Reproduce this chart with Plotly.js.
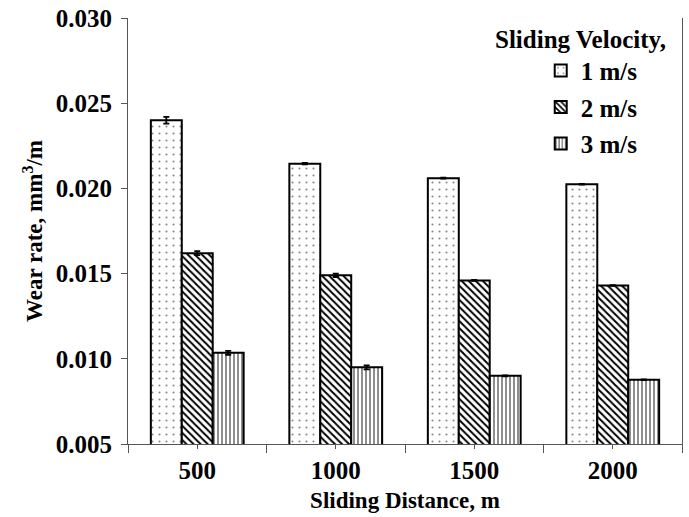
<!DOCTYPE html>
<html>
<head>
<meta charset="utf-8">
<script src="https://cdn.plot.ly/plotly-3.0.1.min.js"></script>
<style>html,body{margin:0;padding:0;background:#fff;}#chart{width:689px;height:517px;}</style>
</head>
<body>
<div id="chart"></div>
<script>
const categories = ['500', '1000', '1500', '2000'];
const seriesNames = ['1 m/s', '2 m/s', '3 m/s'];
const v1 = [0.0240, 0.02145, 0.0206, 0.02025];
const v2 = [0.0162, 0.0149, 0.0146, 0.0143];
const v3 = [0.01035, 0.0095, 0.0090, 0.00877];
const e1 = [0.0002, 0.00004, 0.00003, 0.00002];
const e2 = [0.00012, 0.0001, 0.00003, 0.00002];
const e3 = [0.00012, 0.00012, 0.00003, 0.00002];
const yTicks = [0.005, 0.010, 0.015, 0.020, 0.025, 0.030];

const xIdx = categories.map((c, i) => i);
const FONT = 'Liberation Serif, Times New Roman, serif';
const FS = 25;
const TFS = 23;
const patterns = [
  {shape: '.', size: 7, solidity: 0.07, fgcolor: '#888', bgcolor: '#fff'},
  {shape: '\\', size: 5, solidity: 0.4, fgcolor: '#000', bgcolor: '#fff'},
  {shape: '|', size: 4, solidity: 0.3, fgcolor: '#444', bgcolor: '#fff'}
];
const vals = [v1, v2, v3];
const errs = [e1, e2, e3];
const traces = vals.map((v, k) => ({
  type: 'bar',
  name: seriesNames[k],
  x: xIdx,
  y: v,
  legendgroup: 'g' + k,
  marker: {color: '#fff', pattern: patterns[k], line: {color: '#000', width: 2}},
  error_y: {type: 'data', array: errs[k], visible: true, color: '#000', thickness: 1.8, width: 3}
}));

const layout = {
  width: 689, height: 517,
  margin: {l: 128, r: 7, t: 18, b: 73},
  paper_bgcolor: '#fff', plot_bgcolor: '#fff',
  barmode: 'group', bargap: 0.33, bargroupgap: 0,
  font: {family: FONT, size: FS, color: '#000', weight: 'bold'},
  showlegend: true,
  legend: {
    x: 0.745, y: 0.93, xanchor: 'left', yanchor: 'top',
    bgcolor: 'rgba(0,0,0,0)', traceorder: 'grouped', tracegroupgap: 1,
    font: {family: FONT, size: FS, color: '#000', weight: 'bold'},
    itemwidth: 30
  },
  annotations: [{
    text: 'Sliding Velocity,', xref: 'paper', yref: 'paper',
    x: 0.975, y: 0.95, xanchor: 'right', yanchor: 'middle', showarrow: false,
    font: {family: FONT, size: FS, color: '#000', weight: 'bold'}
  }],
  xaxis: {
    range: [-0.5, 3.5], tickvals: xIdx, ticktext: categories,
    showgrid: false, zeroline: false, showline: true, linecolor: '#555', linewidth: 1,
    ticks: 'outside', ticklen: 4, tickcolor: '#555',
    minor: {tick0: 0.5, dtick: 1, ticks: 'outside', ticklen: 8, tickcolor: '#555', showgrid: false},
    tickfont: {family: FONT, size: FS, color: '#000', weight: 'bold'},
    title: {text: 'Sliding Distance, m', font: {family: FONT, size: TFS, color: '#000', weight: 'bold'}, standoff: 8}
  },
  yaxis: {
    range: [0.005, 0.030], tickvals: yTicks, ticktext: yTicks.map(t => t.toFixed(3)),
    showgrid: false, zeroline: false, showline: true, linecolor: '#555', linewidth: 1, mirror: true,
    ticks: 'outside', ticklen: 6, tickcolor: '#555', ticklabelstandoff: 4,
    tickfont: {family: FONT, size: FS, color: '#000', weight: 'bold'},
    title: {text: 'Wear rate, mm<sup>3</sup>/m', font: {family: FONT, size: TFS, color: '#000', weight: 'bold'}, standoff: 6}
  }
};
Plotly.newPlot('chart', traces, layout, {displayModeBar: false, staticPlot: true});
</script>
</body>
</html>
